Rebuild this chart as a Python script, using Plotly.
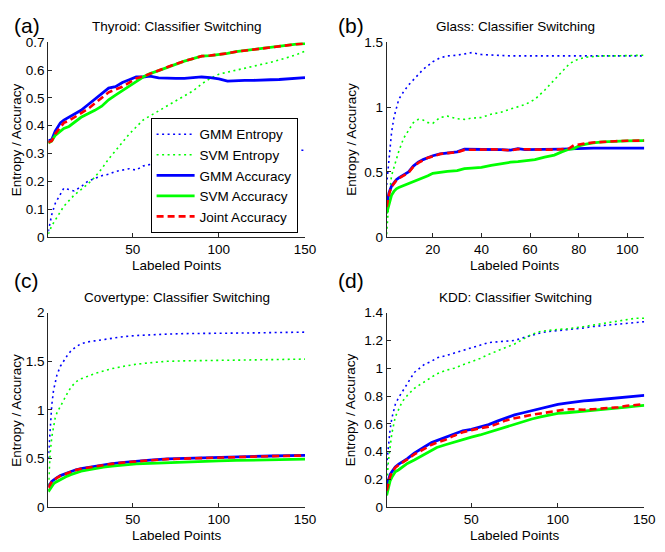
import plotly.graph_objects as go

# ---------------- data ----------------
# (a) Thyroid
xa = [1, 3, 5, 8, 10, 13, 16, 20, 24, 28, 32, 36, 40, 44, 48, 52, 56, 60, 65, 70, 75, 80, 85, 90,
      95, 100, 105, 110, 115, 120, 125, 130, 135, 140, 145, 150]
a_gmm_ent = [0.02, 0.08, 0.12, 0.155, 0.175, 0.17, 0.165, 0.18, 0.2, 0.21, 0.22, 0.225, 0.235, 0.24,
             0.245, 0.24, 0.255, 0.26, 0.265, 0.27, 0.275, 0.28, 0.283, 0.285, 0.288, 0.29, 0.292,
             0.295, 0.297, 0.3, 0.302, 0.304, 0.306, 0.308, 0.31, 0.312]
a_svm_ent = [0.01, 0.04, 0.06, 0.09, 0.11, 0.13, 0.15, 0.17, 0.19, 0.215, 0.245, 0.28, 0.31, 0.34,
             0.37, 0.395, 0.42, 0.435, 0.453, 0.47, 0.488, 0.505, 0.525, 0.55, 0.57, 0.585, 0.592,
             0.6, 0.605, 0.612, 0.62, 0.628, 0.636, 0.645, 0.655, 0.668]
a_gmm_acc = [0.345, 0.35, 0.38, 0.41, 0.42, 0.43, 0.44, 0.455, 0.475, 0.495, 0.515, 0.535, 0.54,
             0.555, 0.565, 0.575, 0.575, 0.578, 0.572, 0.57, 0.57, 0.57, 0.572, 0.575, 0.573, 0.568,
             0.56, 0.562, 0.563, 0.563, 0.565, 0.565, 0.566, 0.568, 0.57, 0.573]
a_svm_acc = [0.337, 0.345, 0.365, 0.38, 0.39, 0.397, 0.41, 0.43, 0.443, 0.455, 0.47, 0.493, 0.51,
             0.525, 0.543, 0.558, 0.575, 0.587, 0.598, 0.61, 0.622, 0.632, 0.641, 0.65, 0.652, 0.655,
             0.66, 0.666, 0.67, 0.673, 0.677, 0.682, 0.686, 0.69, 0.693, 0.695]
a_joint_acc = [0.34, 0.345, 0.37, 0.395, 0.41, 0.418, 0.43, 0.445, 0.46, 0.48, 0.5, 0.52, 0.53,
               0.54, 0.555, 0.57, 0.577, 0.587, 0.598, 0.61, 0.622, 0.632, 0.641, 0.65, 0.652, 0.655,
               0.66, 0.666, 0.67, 0.673, 0.677, 0.682, 0.686, 0.69, 0.693, 0.695]

# (b) Glass
xb = [1, 2, 3, 4, 5, 6, 8, 10, 12, 14, 16, 18, 20, 23, 26, 30, 33, 36, 40, 44, 48, 52, 55, 58, 62,
      66, 70, 73, 76, 78, 80, 83, 86, 90, 95, 100, 107]
b_gmm_ent = [0.4, 0.62, 0.8, 0.92, 1.0, 1.06, 1.12, 1.17, 1.21, 1.25, 1.29, 1.32, 1.35, 1.38, 1.395,
             1.4, 1.41, 1.42, 1.405, 1.4, 1.395, 1.395, 1.395, 1.395, 1.395, 1.395, 1.395, 1.395,
             1.395, 1.395, 1.395, 1.395, 1.395, 1.395, 1.395, 1.395, 1.395]
b_svm_ent = [0.02, 0.3, 0.47, 0.54, 0.6, 0.66, 0.76, 0.82, 0.88, 0.905, 0.9, 0.88, 0.875, 0.92, 0.93,
             0.91, 0.905, 0.915, 0.92, 0.945, 0.96, 0.985, 1.0, 1.02, 1.06, 1.13, 1.21, 1.27, 1.33,
             1.355, 1.37, 1.385, 1.39, 1.395, 1.395, 1.395, 1.4]
b_gmm_acc = [0.25, 0.34, 0.39, 0.42, 0.44, 0.455, 0.475, 0.5, 0.545, 0.575, 0.595, 0.61, 0.625, 0.64,
             0.648, 0.655, 0.675, 0.675, 0.67, 0.672, 0.672, 0.668, 0.68, 0.672, 0.672, 0.674, 0.674,
             0.676, 0.678, 0.68, 0.682, 0.682, 0.683, 0.683, 0.683, 0.683, 0.683]
b_svm_acc = [0.18, 0.26, 0.32, 0.35, 0.37, 0.38, 0.395, 0.405, 0.42, 0.44, 0.455, 0.47, 0.49, 0.5,
             0.505, 0.51, 0.525, 0.53, 0.535, 0.55, 0.565, 0.575, 0.58, 0.585, 0.595, 0.615, 0.63,
             0.655, 0.675, 0.68, 0.7, 0.715, 0.725, 0.732, 0.737, 0.74, 0.742]
b_joint_acc = [0.23, 0.33, 0.385, 0.415, 0.435, 0.45, 0.47, 0.495, 0.54, 0.57, 0.59, 0.61, 0.62, 0.638,
               0.645, 0.652, 0.67, 0.672, 0.67, 0.674, 0.672, 0.666, 0.676, 0.674, 0.672, 0.672, 0.672,
               0.676, 0.68, 0.705, 0.712, 0.72, 0.727, 0.733, 0.737, 0.74, 0.742]

# (c) Covertype
xc = [1, 2, 3, 4, 5, 6, 8, 10, 12, 14, 17, 20, 24, 28, 33, 38, 45, 52, 60, 70, 80, 90, 100, 110,
      120, 130, 140, 150]
c_gmm_ent = [0.5, 0.85, 1.05, 1.2, 1.3, 1.36, 1.45, 1.51, 1.56, 1.605, 1.65, 1.68, 1.7, 1.71, 1.725,
             1.74, 1.755, 1.765, 1.775, 1.78, 1.785, 1.785, 1.79, 1.79, 1.792, 1.795, 1.798, 1.8]
c_svm_ent = [0.17, 0.54, 0.72, 0.83, 0.92, 0.97, 1.04, 1.11, 1.17, 1.23, 1.29, 1.32, 1.35, 1.375,
             1.4, 1.425, 1.45, 1.47, 1.485, 1.5, 1.505, 1.51, 1.51, 1.512, 1.515, 1.518, 1.52, 1.523]
c_gmm_acc = [0.21, 0.24, 0.265, 0.28, 0.295, 0.305, 0.325, 0.34, 0.355, 0.368, 0.385, 0.398, 0.41,
             0.422, 0.435, 0.448, 0.462, 0.474, 0.485, 0.497, 0.503, 0.51, 0.515, 0.519, 0.523,
             0.527, 0.53, 0.533]
c_svm_acc = [0.16, 0.19, 0.22, 0.24, 0.255, 0.265, 0.285, 0.305, 0.32, 0.335, 0.355, 0.37, 0.385,
             0.4, 0.412, 0.423, 0.435, 0.445, 0.452, 0.46, 0.466, 0.472, 0.477, 0.481, 0.485, 0.488,
             0.491, 0.494]
c_joint_acc = [0.2, 0.235, 0.262, 0.278, 0.292, 0.302, 0.322, 0.337, 0.352, 0.365, 0.382, 0.396,
               0.408, 0.42, 0.433, 0.446, 0.46, 0.472, 0.483, 0.495, 0.501, 0.508, 0.513, 0.517,
               0.521, 0.525, 0.528, 0.531]

# (d) KDD
xd = [1, 2, 3, 4, 6, 8, 10, 13, 17, 20, 23, 27, 30, 35, 40, 45, 50, 55, 60, 65, 70, 75, 80, 85, 90,
      95, 100, 105, 110, 115, 120, 125, 130, 135, 140, 145, 150]
d_gmm_ent = [0.3, 0.45, 0.56, 0.64, 0.74, 0.79, 0.83, 0.9, 0.97, 1.0, 1.03, 1.05, 1.075, 1.09, 1.11,
             1.13, 1.15, 1.165, 1.185, 1.19, 1.195, 1.2, 1.22, 1.24, 1.255, 1.265, 1.27, 1.277, 1.285,
             1.29, 1.3, 1.305, 1.31, 1.318, 1.323, 1.33, 1.335]
d_svm_ent = [0.15, 0.33, 0.43, 0.53, 0.65, 0.71, 0.76, 0.805, 0.855, 0.88, 0.905, 0.935, 0.96, 0.985,
             1.0, 1.025, 1.045, 1.07, 1.1, 1.125, 1.148, 1.175, 1.21, 1.245, 1.265, 1.275, 1.28,
             1.283, 1.29, 1.3, 1.31, 1.32, 1.325, 1.335, 1.348, 1.36, 1.36]
d_gmm_acc = [0.15, 0.2, 0.235, 0.255, 0.29, 0.31, 0.325, 0.35, 0.39, 0.41, 0.435, 0.465, 0.48, 0.5,
             0.53, 0.55, 0.56, 0.575, 0.595, 0.62, 0.645, 0.665, 0.68, 0.695, 0.715, 0.73, 0.74,
             0.75, 0.76, 0.765, 0.77, 0.775, 0.78, 0.787, 0.795, 0.8, 0.805]
d_svm_acc = [0.085, 0.15, 0.19, 0.215, 0.255, 0.27, 0.29, 0.315, 0.34, 0.36, 0.385, 0.41, 0.43, 0.45,
             0.47, 0.49, 0.505, 0.52, 0.54, 0.555, 0.575, 0.595, 0.62, 0.635, 0.65, 0.665, 0.675,
             0.68, 0.685, 0.69, 0.695, 0.7, 0.705, 0.712, 0.72, 0.727, 0.733]
d_joint_acc = [0.12, 0.18, 0.22, 0.25, 0.285, 0.305, 0.32, 0.345, 0.38, 0.4, 0.425, 0.45, 0.465,
               0.485, 0.515, 0.54, 0.555, 0.565, 0.58, 0.6, 0.625, 0.64, 0.655, 0.665, 0.675, 0.685,
               0.695, 0.705, 0.705, 0.702, 0.705, 0.71, 0.712, 0.72, 0.73, 0.735, 0.742]

series_names = ["GMM Entropy", "SVM Entropy", "GMM Accuracy", "SVM Accuracy", "Joint Accuracy"]
panel_titles = ["Thyroid: Classifier Switching", "Glass: Classifier Switching",
                "Covertype: Classifier Switching", "KDD: Classifier Switching"]
panel_letters = ["(a)", "(b)", "(c)", "(d)"]
x_label = "Labeled Points"
y_label = "Entropy / Accuracy"

# ---------------- styling ----------------
W, H = 665, 552
OFF = 8  # page body margin that offsets the figure on screen
FONT = "Arial, Liberation Sans, Helvetica, sans-serif"
BLUE, GREEN, RED = "#0000FF", "#00FF00", "#FF0000"


def px_x(p):
    return (p - OFF) / W


def px_y(p):
    return 1 - (p - OFF) / H


styles = [
    dict(color=BLUE, width=1.6, dash="2px,3.5px"),
    dict(color=GREEN, width=1.6, dash="2px,3.5px"),
    dict(color=BLUE, width=2.8, dash="solid"),
    dict(color=GREEN, width=2.8, dash="solid"),
    dict(color=RED, width=2.6, dash="7px,4px"),
]

panels = [
    (xa, [a_gmm_ent, a_svm_ent, a_gmm_acc, a_svm_acc, a_joint_acc]),
    (xb, [b_gmm_ent, b_svm_ent, b_gmm_acc, b_svm_acc, b_joint_acc]),
    (xc, [c_gmm_ent, c_svm_ent, c_gmm_acc, c_svm_acc, c_joint_acc]),
    (xd, [d_gmm_ent, d_svm_ent, d_gmm_acc, d_svm_acc, d_joint_acc]),
]

# on-screen pixel boxes of the four axes: (left, right, top, bottom)
boxes = [(49, 310, 36, 236), (393, 655, 36, 236), (49, 310, 314, 514), (393, 655, 314, 514)]
letter_pos = [(27, 19), (357, 19), (27, 281), (357, 281)]
ylabel_x = [17, 357, 17, 357]
xranges = [[1, 150], [1, 107], [1, 150], [1, 150]]
yranges = [[0, 0.7], [0, 1.5], [0, 2], [0, 1.4]]
xticks = [[50, 100, 150], [20, 40, 60, 80, 100], [50, 100, 150], [50, 100, 150]]
yticks = [[0, 0.1, 0.2, 0.3, 0.4, 0.5, 0.6, 0.7], [0, 0.5, 1, 1.5],
          [0, 0.5, 1, 1.5, 2], [0, 0.2, 0.4, 0.6, 0.8, 1, 1.2, 1.4]]

fig = go.Figure()
layout = dict(
    width=W, height=H, autosize=False,
    margin=dict(l=0, r=0, t=0, b=0),
    paper_bgcolor="white", plot_bgcolor="white",
    font=dict(family=FONT, size=13.5, color="black"),
    showlegend=True,
    legend=dict(x=px_x(153), y=px_y(232), xanchor="left", yanchor="bottom",
                bgcolor="white", bordercolor="black", borderwidth=1, itemwidth=38,
                font=dict(size=13.5, family=FONT), tracegroupgap=0),
)
annotations = []
AX = "#262626"
for i, (xs, ys_list) in enumerate(panels):
    n = "" if i == 0 else str(i + 1)
    l, r, t, b = boxes[i]
    layout["xaxis" + n] = dict(
        domain=[px_x(l), px_x(r)], anchor="y" + n, range=xranges[i],
        tickvals=xticks[i], ticks="inside", ticklen=4, tickcolor=AX,
        showline=True, linecolor=AX, linewidth=1, mirror=False,
        showgrid=False, zeroline=False, tickfont=dict(size=13.5, family=FONT),
    )
    layout["yaxis" + n] = dict(
        domain=[px_y(b), px_y(t)], anchor="x" + n, range=yranges[i],
        tickvals=yticks[i], ticks="inside", ticklen=4, tickcolor=AX,
        showline=True, linecolor=AX, linewidth=1, mirror=False,
        showgrid=False, zeroline=False, tickfont=dict(size=13.5, family=FONT),
    )
    for k, ys in enumerate(ys_list):
        fig.add_trace(go.Scatter(
            x=xs, y=ys, mode="lines", name=series_names[k],
            line=styles[k], xaxis="x" + n, yaxis="y" + n,
            showlegend=(i == 0),
        ))
    cx = px_x((l + r) / 2)
    annotations.append(dict(text=panel_titles[i], x=cx, y=px_y(t - 16), xref="paper",
                            yref="paper", showarrow=False, xanchor="center", yanchor="middle",
                            font=dict(size=13.5, family=FONT)))
    annotations.append(dict(text=x_label, x=cx, y=px_y(b + 29), xref="paper", yref="paper",
                            showarrow=False, xanchor="center", yanchor="middle",
                            font=dict(size=13.5, family=FONT)))
    annotations.append(dict(text=y_label, x=px_x(ylabel_x[i]), y=px_y((t + b) / 2), xref="paper",
                            yref="paper", showarrow=False, xanchor="center", yanchor="middle",
                            textangle=-90, font=dict(size=13.5, family=FONT)))
    lx, ly = letter_pos[i]
    annotations.append(dict(text=panel_letters[i], x=px_x(lx), y=px_y(ly),
                            xref="paper", yref="paper", showarrow=False, xanchor="center",
                            yanchor="middle", font=dict(size=21, family=FONT)))

layout["annotations"] = annotations
fig.update_layout(**layout)
fig.write_html("out.html")
